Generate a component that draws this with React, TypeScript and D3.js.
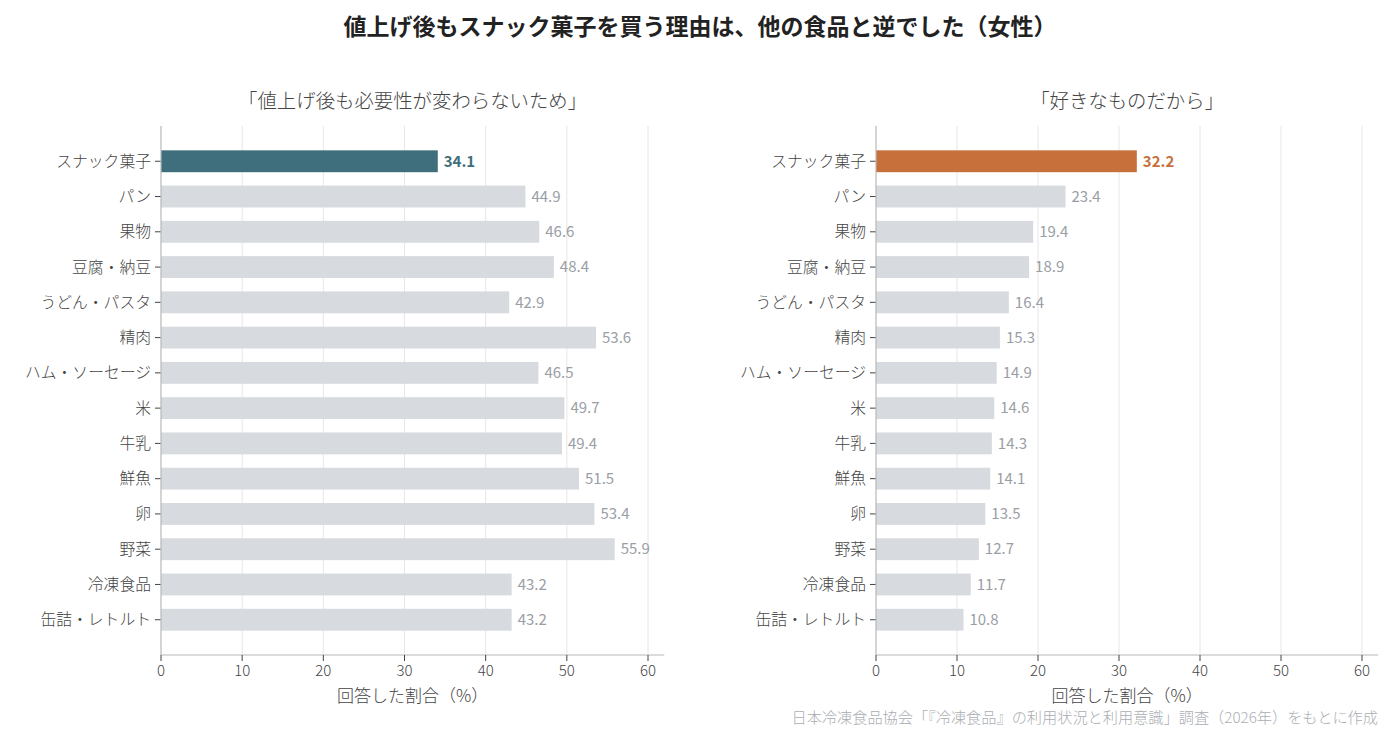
import React from "react";
import * as d3 from "d3";

const categories = ["スナック菓子", "パン", "果物", "豆腐・納豆", "うどん・パスタ", "精肉", "ハム・ソーセージ", "米", "牛乳", "鮮魚", "卵", "野菜", "冷凍食品", "缶詰・レトルト"];
const necessityValues = [34.1, 44.9, 46.6, 48.4, 42.9, 53.6, 46.5, 49.7, 49.4, 51.5, 53.4, 55.9, 43.2, 43.2];
const favoriteValues = [32.2, 23.4, 19.4, 18.9, 16.4, 15.3, 14.9, 14.6, 14.3, 14.1, 13.5, 12.7, 11.7, 10.8];
const xTicks = [0, 10, 20, 30, 40, 50, 60];

const titleText = "値上げ後もスナック菓子を買う理由は、他の食品と逆でした（女性）";
const leftTitle = "「値上げ後も必要性が変わらないため」";
const rightTitle = "「好きなものだから」";
const xLabel = "回答した割合（%）";
const sourceText = "日本冷凍食品協会「『冷凍食品』の利用状況と利用意識」調査（2026年）をもとに作成";

const FONT = "'Noto Sans CJK JP', 'Noto Sans', sans-serif";
const GRAY_BAR = "#d7dade";
const GRAY_TEXT = "#9a9ea5";
const TEXT = "#444444";
const SPINE = "#b8b8b8";
const GRID = "#e6e6e6";

type PanelProps = {
  x0: number;
  x60: number;
  values: number[];
  highlight: string;
  title: string;
};

const TOP = 126;
const BOTTOM = 655;

function Panel({ x0, x60, values, highlight, title }: PanelProps) {
  const unit = (x60 - x0) / 60;
  const x = d3.scaleLinear().domain([0, 62]).range([x0, x0 + unit * 62]);
  const y = d3
    .scaleLinear()
    .domain([-1, categories.length])
    .range([TOP, BOTTOM]);
  const step = y(1) - y(0);
  const barH = step * 0.62;
  const [xa, xb] = x.range();
  const cx = (xa + xb) / 2;
  return (
    <g>
      <text
        x={cx}
        y={108}
        textAnchor="middle"
        fontSize={19.4}
        fontWeight={300}
        fill={TEXT}
        fontFamily={FONT}
      >
        {title}
      </text>
      {xTicks.slice(1).map((t) => (
        <line key={"g" + t} x1={x(t)} x2={x(t)} y1={TOP} y2={BOTTOM} stroke={GRID} strokeWidth={1} />
      ))}
      {categories.map((c, i) => {
        const v = values[i];
        const hi = i === 0;
        return (
          <g key={c}>
            <rect
              x={x(0)}
              y={y(i) - barH / 2}
              width={x(v) - x(0)}
              height={barH}
              fill={hi ? highlight : GRAY_BAR}
            />
            <text
              x={x(v) + 6}
              y={y(i)}
              dy="0.35em"
              fontSize={15}
              fontWeight={hi ? 700 : 400}
              fill={hi ? highlight : GRAY_TEXT}
              fontFamily={FONT}
            >
              {v.toFixed(1)}
            </text>
            <line x1={x(0) - 6} x2={x(0)} y1={y(i)} y2={y(i)} stroke={TEXT} strokeWidth={1} />
            <text
              x={x(0) - 10}
              y={y(i)}
              dy="0.35em"
              textAnchor="end"
              fontSize={15.8}
              fontWeight={300}
              fill={TEXT}
              fontFamily={FONT}
            >
              {c}
            </text>
          </g>
        );
      })}
      <line x1={x(0)} x2={x(0)} y1={TOP} y2={BOTTOM} stroke={SPINE} strokeWidth={1.2} />
      <line x1={xa} x2={xb} y1={BOTTOM} y2={BOTTOM} stroke={SPINE} strokeWidth={1.2} />
      {xTicks.map((t) => (
        <g key={"t" + t}>
          <line x1={x(t)} x2={x(t)} y1={BOTTOM} y2={BOTTOM + 6} stroke={TEXT} strokeWidth={1} />
          <text
            x={x(t)}
            y={BOTTOM + 16}
            dy="0.35em"
            textAnchor="middle"
            fontSize={15}
            fontWeight={300}
            fill={TEXT}
            fontFamily={FONT}
          >
            {t}
          </text>
        </g>
      ))}
      <text
        x={cx}
        y={696}
        dy="0.35em"
        textAnchor="middle"
        fontSize={17}
        fontWeight={300}
        fill={TEXT}
        fontFamily={FONT}
      >
        {xLabel}
      </text>
    </g>
  );
}

export default function App() {
  return (
    <svg
      width={1400}
      height={740}
      viewBox="0 0 1400 740"
      style={{ position: "absolute", left: 0, top: 0, background: "#ffffff" }}
      fontFamily={FONT}
    >
      <rect width={1400} height={740} fill="#ffffff" />
      <text
        x={700}
        y={27}
        dy="0.35em"
        textAnchor="middle"
        fontSize={23}
        fontWeight={700}
        fill="#222222"
        fontFamily={FONT}
      >
        {titleText}
      </text>
      <Panel x0={161} x60={648} values={necessityValues} highlight="#3f6e7c" title={leftTitle} />
      <Panel x0={876} x60={1362} values={favoriteValues} highlight="#c8703b" title={rightTitle} />
      <text
        x={1378}
        y={718}
        dy="0.35em"
        textAnchor="end"
        fontSize={15.2}
        fontWeight={300}
        fill="#aaaeb3"
        fontFamily={FONT}
      >
        {sourceText}
      </text>
    </svg>
  );
}
